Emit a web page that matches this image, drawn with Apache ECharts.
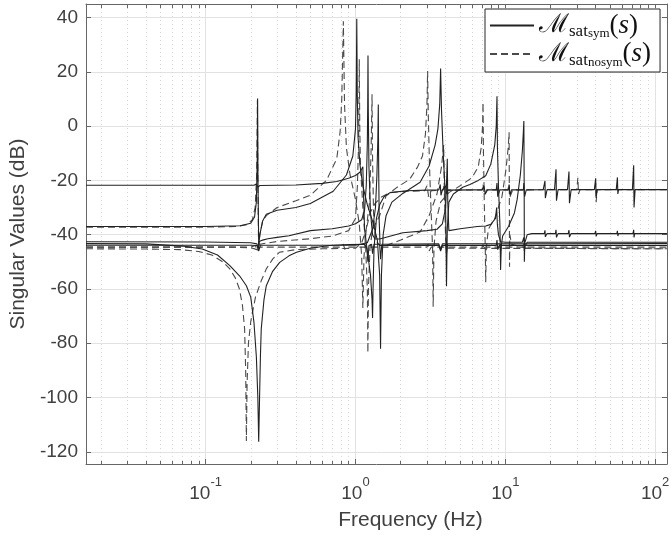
<!DOCTYPE html>
<html>
<head>
<meta charset="utf-8">
<script src="https://cdn.jsdelivr.net/npm/echarts@6/dist/echarts.min.js"></script>
<style>html,body{margin:0;padding:0;background:#fff}#c{width:671px;height:535px}</style>
</head>
<body>
<div id="c"></div>
<script>
// ---- axis ticks ----
const xMajorTicks = [0.1, 1, 10, 100];
const xMinorTicks = [0.02,0.03,0.04,0.05,0.06,0.07,0.08,0.09,
  0.2,0.3,0.4,0.5,0.6,0.7,0.8,0.9,
  2,3,4,5,6,7,8,9,
  20,30,40,50,60,70,80,90];
const yTicks = [-120,-100,-80,-60,-40,-20,0,20,40];
const xRange = [0.0159, 120];
const yRange = [-124.5, 45];

// ---- series: [frequency (Hz), singular value (dB)] ----
// solid: M_sat_sym(s)
const symA = [[0.0159,-21.8],[0.05,-21.8],[0.15,-21.8],[0.21,-21.8],[0.219,-21.3],[0.222,-22.5],[0.23,-21.9],[0.4,-21.7],[0.6,-21.1],[0.75,-20.4],[0.9,-19.2],[1.0,-18.2],[1.07,-17],[1.1,-15.8],[1.12,-15],[1.13,-24],[1.15,-38],[1.2,-46],[1.26,-55],[1.29,-64],[1.3,-70.7],[1.31,-60],[1.33,-45],[1.38,-34],[1.45,-29],[1.55,-26],[1.7,-24.5],[2.2,-23.8],[3.0,-23.6],[3.6,-23.5],[3.68,-21.5],[3.72,-25.5],[3.8,-23.6],[4.0,-22],[4.06,-25],[4.15,-23.6],[6,-23.5],[7.0,-23.5],[7.2,-22],[7.35,-25],[7.6,-23.5],[8.7,-23.5],[8.8,-21],[8.9,-26],[9.2,-23.5],[10.5,-23.5],[10.6,-21.5],[10.75,-25.5],[11,-23.5],[13.2,-23.5],[13.3,-21],[13.45,-26],[13.8,-23.5],[17.9,-23.4],[18.4,-20.2],[18.5,-26.5],[19,-23.4],[21.3,-23.4],[21.8,-15.9],[21.95,-27.5],[22.5,-23.4],[26,-23.4],[26.6,-16.7],[26.8,-28.4],[27.5,-23.4],[39.3,-23.4],[40.1,-19.2],[40.4,-26.5],[41,-23.4],[55,-23.4],[56,-18.9],[56.4,-25],[57,-23.4],[70.5,-23.4],[71.9,-14.4],[72.3,-30],[73.5,-23.4],[120,-23.4]];
const symB = [[0.0159,-37],[0.1,-37],[0.17,-36.7],[0.2,-35.8],[0.212,-33.5],[0.218,-28],[0.221,-12],[0.2222,10.2],[0.2235,-20],[0.226,-44],[0.23,-40],[0.24,-35],[0.254,-32.5],[0.3,-31],[0.4,-30],[0.5,-28.5],[0.71,-24],[0.87,-18],[0.96,-11],[1.0,-1],[1.012,12],[1.02,39.6],[1.028,12],[1.04,-4],[1.07,-14],[1.12,-22],[1.2,-29],[1.3,-35],[1.4,-42],[1.45,-55],[1.47,-82],[1.49,-55],[1.53,-40],[1.6,-33],[1.75,-28],[2.07,-24.8],[2.7,-20.7],[3.1,-14.7],[3.4,-7],[3.55,-1],[3.65,8],[3.7,21.2],[3.75,6],[3.85,-10],[3.95,-22],[4.0,-32],[4.05,-59],[4.1,-38],[4.2,-28],[4.5,-25],[5.2,-22.5],[5.8,-21.5],[6.6,-20],[7.4,-18.3],[8.0,-14],[8.5,-7],[8.7,0],[8.8,11],[8.86,-8],[9.0,-22],[9.2,-36],[9.3,-53],[9.4,-44],[9.6,-40.5],[10.5,-37],[11.5,-32],[12,-27],[12.6,-18],[13.0,-9],[13.2,-2],[13.3,1.9],[13.36,-20],[13.4,-50],[13.5,-43],[14,-40],[15,-39.6],[18.2,-39.6],[18.4,-38.4],[18.5,-40.8],[19,-39.6],[21.6,-39.6],[21.8,-38.2],[21.95,-41],[22.5,-39.6],[26.3,-39.6],[26.6,-38.3],[26.8,-40.9],[27.5,-39.6],[39.6,-39.6],[40.1,-38.6],[40.4,-40.6],[41,-39.6],[55.5,-39.6],[56,-38.6],[56.4,-40.5],[57,-39.6],[71.2,-39.6],[71.9,-38.2],[72.3,-41],[73,-39.6],[120,-39.6]];
const symC = [[0.0159,-43.3],[0.04,-43.4],[0.07,-44.2],[0.095,-45.3],[0.12,-47.5],[0.145,-51.4],[0.17,-55.5],[0.187,-58.8],[0.2,-63],[0.21,-72.2],[0.218,-85],[0.223,-100],[0.226,-116.3],[0.229,-100],[0.232,-85],[0.235,-74.7],[0.245,-64],[0.254,-58.8],[0.28,-53.5],[0.312,-50.2],[0.36,-47.8],[0.404,-46.5],[0.5,-45],[0.67,-44],[0.9,-43.6],[1.15,-43.5],[1.19,-45],[1.21,-50],[1.23,-44],[1.28,-43.5],[1.3,-47],[1.33,-43.5],[1.45,-43.5],[1.47,-49],[1.5,-43.5],[3.6,-43.4],[3.7,-45.5],[3.8,-43.4],[4.0,-43.4],[4.05,-47],[4.12,-43.4],[9.2,-43.4],[9.3,-46],[9.4,-43.4],[13.3,-43.4],[13.4,-46],[13.5,-43.4],[120,-43.3]];
const symD = [[0.0159,-42.6],[0.1,-42.7],[0.2,-43],[0.22,-43.4],[0.225,-45],[0.228,-42.5],[0.24,-42],[0.26,-41.5],[0.3,-41],[0.36,-40.4],[0.5,-38.5],[0.7,-37.8],[0.9,-36.8],[1.0,-36],[1.1,-34.5],[1.15,-31],[1.18,-22],[1.2,-6],[1.207,8],[1.212,26],[1.218,5],[1.23,-15],[1.26,-32],[1.3,-40],[1.35,-41.6],[1.45,-41.6],[2.07,-39.3],[3.0,-38.5],[3.5,-38],[3.8,-36],[4.0,-30],[4.08,-16],[4.1,-12],[4.13,-28],[4.2,-38.5],[5,-37.8],[6.5,-37],[7.4,-36.8],[8.0,-36.2],[8.6,-34],[8.75,-30],[8.85,-36],[9.0,-40],[9.3,-42.6],[10,-42.8],[13.0,-42.8],[13.3,-41],[13.45,-44.5],[14,-42.8],[120,-42.8]];
const symE = [[0.0159,-43.9],[0.2,-43.9],[0.22,-44],[0.226,-46],[0.232,-43.9],[1.0,-43.9],[1.2,-43],[1.3,-38],[1.36,-30],[1.39,-18],[1.41,-5],[1.42,8],[1.428,-15],[1.44,-35],[1.46,-44],[1.5,-44.2],[3.6,-44],[3.7,-46],[3.8,-44],[8.7,-44],[8.8,-42],[8.9,-45.5],[9.1,-44],[120,-44]];
// dashed: M_sat_nosym(s)
const nsA = [[0.0159,-37.2],[0.1,-37.2],[0.16,-37],[0.19,-36.3],[0.205,-34.5],[0.214,-30],[0.219,-18],[0.2215,9.5],[0.223,-18],[0.2255,-44],[0.23,-40],[0.24,-35],[0.254,-33],[0.3,-30],[0.4,-27.5],[0.5,-25.5],[0.64,-20],[0.75,-12],[0.79,-2],[0.81,9.9],[0.83,38.6],[0.845,8],[0.87,-8],[0.92,-18],[1.0,-27],[1.06,-36],[1.1,-48],[1.12,-67],[1.14,-48],[1.18,-38],[1.25,-32],[1.35,-28.5],[1.5,-26],[1.7,-24.5],[2.2,-24],[2.9,-23.8],[3.0,-22],[3.08,-26],[3.2,-23.8],[3.85,-23.6],[3.9,-21.5],[3.97,-25.5],[4.1,-23.6],[7.0,-23.5],[7.1,-21.5],[7.25,-25.5],[7.5,-23.5],[10.4,-23.5],[10.6,-21.5],[10.75,-26],[11.2,-23.5],[30,-23.4],[30.5,-19],[30.8,-25],[31.5,-23.4],[39.5,-23.4],[40.1,-21],[40.4,-28],[41,-23.4],[120,-23.4]];
const nsB = [[0.0159,-44.6],[0.15,-44.6],[0.2,-44.8],[0.22,-45.5],[0.2255,-46],[0.23,-43.5],[0.3,-42.5],[0.5,-41.5],[0.7,-40.5],[0.9,-38.5],[1.0,-34],[1.03,-22],[1.05,-5],[1.06,24.6],[1.068,0],[1.08,-15],[1.12,-30],[1.17,-45],[1.2,-60],[1.21,-83.5],[1.22,-60],[1.25,-45],[1.3,-38],[1.45,-33],[1.6,-25.7],[1.9,-22.5],[2.3,-19.6],[2.6,-15],[2.8,-11],[2.93,-3],[3.0,8],[3.03,20.3],[3.06,5],[3.12,-15],[3.2,-32],[3.27,-45],[3.3,-66.6],[3.34,-45],[3.45,-35],[3.7,-28],[4.2,-24.5],[5,-22],[6.0,-19],[6.6,-15],[6.9,-8],[7.05,0],[7.1,8.7],[7.15,-10],[7.25,-30],[7.35,-45],[7.4,-57.5],[7.47,-45],[7.7,-38],[8.5,-34],[9.5,-26],[10.1,-16],[10.45,-8],[10.6,-2.3],[10.63,-20],[10.67,-51.8],[10.72,-40],[11.0,-43.5],[14,-45],[120,-45.2]];
const nsC = [[0.0159,-45.2],[0.04,-45.3],[0.067,-45.5],[0.09,-46.2],[0.11,-47.5],[0.13,-50],[0.145,-52.6],[0.158,-56],[0.168,-60],[0.176,-66],[0.182,-74.7],[0.185,-90],[0.187,-116],[0.189,-95],[0.193,-80],[0.2,-72],[0.215,-63],[0.235,-57],[0.254,-52.6],[0.28,-49],[0.31,-46.5],[0.4,-45.5],[0.6,-45.2],[1.0,-45],[1.1,-43],[1.18,-38],[1.24,-28],[1.27,-10],[1.29,11.7],[1.3,-12],[1.32,-32],[1.36,-42],[1.45,-44],[1.6,-44],[2.0,-42],[2.7,-39],[3.1,-33],[3.5,-25],[3.75,-15],[3.88,-7],[3.92,-25],[4.0,-42],[4.1,-45],[120,-45.2]];
const nsD = [[0.0159,-44.6],[0.2,-44.6],[0.215,-44],[0.22,-46],[0.23,-44.6],[0.8,-44.6],[0.83,-43.5],[0.85,-45.5],[0.9,-44.6],[3.0,-44.6],[3.05,-43.5],[3.1,-46],[3.2,-44.6],[7.05,-44.6],[7.1,-43.6],[7.2,-45.6],[7.3,-44.6],[120,-44.6]];

const solidCurves = [symA, symB, symC, symD, symE];
const dashedCurves = [nsA, nsB, nsC, nsD];

const chart = echarts.init(document.getElementById('c'), null, {renderer: 'canvas'});

const axisColor = '#666';
const labelColor = '#404040';
const solidColor = '#222';
const dashColor = '#4a4a4a';
const series = [];
dashedCurves.forEach(d => series.push({
  name: 'nosym', type: 'line', data: d, showSymbol: false, symbol: 'none',
  xAxisIndex: 0, yAxisIndex: 0, animation: false, z: 3,
  itemStyle: {color: dashColor, opacity: 0},
  lineStyle: {color: dashColor, width: 1.1, type: [7, 4], opacity: 1}
}));
solidCurves.forEach(d => series.push({
  name: 'sym', type: 'line', data: d, showSymbol: false, symbol: 'none',
  xAxisIndex: 0, yAxisIndex: 0, animation: false, z: 4,
  itemStyle: {color: solidColor, opacity: 0},
  lineStyle: {color: solidColor, width: 1.1, type: 'solid', opacity: 1}
}));

const legendText = {
  sym: '{m|ℳ}{s1|sat}{s2|sym}{p|(}{it|s}{p|)}',
  nosym: '{m|ℳ}{s1|sat}{s2|nosym}{p|(}{it|s}{p|)}'
};

const option = {
  backgroundColor: '#fff',
  animation: false,
  grid: {left: 86, right: 4, top: 4, bottom: 71, containLabel: false, outerBoundsMode: 'none'},
  legend: {
    data: ['sym', 'nosym'],
    orient: 'vertical', left: 485, top: 9,
    backgroundColor: '#fff', borderColor: '#262626', borderWidth: 1, borderRadius: 0,
    padding: [3, 9, 3, 4], itemGap: 0, itemWidth: 44, itemHeight: 14,
    itemStyle: {opacity: 0},
    formatter: n => legendText[n],
    textStyle: {
      color: '#111',
      rich: {
        m: {fontFamily: 'DejaVu Serif', fontSize: 26, lineHeight: 30, color: '#111'},
        s1: {fontFamily: 'Liberation Serif', fontSize: 17, lineHeight: 12, verticalAlign: 'bottom', color: '#111'},
        s2: {fontFamily: 'Liberation Serif', fontSize: 13, lineHeight: 4, verticalAlign: 'bottom', color: '#111'},
        p: {fontFamily: 'Liberation Serif', fontSize: 27, lineHeight: 30, color: '#111'},
        it: {fontFamily: 'Liberation Serif', fontStyle: 'italic', fontSize: 27, lineHeight: 30, color: '#111'}
      }
    }
  },
  xAxis: [
    {
      type: 'log', logBase: 10, min: xRange[0], max: xRange[1], position: 'bottom',
      axisLine: {show: true, onZero: false, lineStyle: {color: axisColor, width: 1}},
      axisTick: {show: true, inside: true, length: 5, customValues: xMajorTicks, lineStyle: {color: axisColor}},
      axisLabel: {
        show: true, customValues: xMajorTicks, margin: 12,
        formatter: v => '{sp|\u200b}{b|10}{e|' + Math.round(Math.log10(v)) + '}',
        rich: {
          sp: {fontSize: 10, lineHeight: 27},
          b: {fontFamily: 'Liberation Sans', fontSize: 19, lineHeight: 19, verticalAlign: 'bottom', color: labelColor},
          e: {fontFamily: 'Liberation Sans', fontSize: 13, lineHeight: 15, verticalAlign: 'top', color: labelColor}
        }
      },
      splitLine: {show: true, lineStyle: {color: '#e2e2e2', width: 1}},
      name: 'Frequency (Hz)', nameLocation: 'middle', nameGap: 46,
      nameTextStyle: {fontFamily: 'Liberation Sans', fontSize: 21, color: labelColor, padding: [0, 0, 0, 68]}
    },
    {
      type: 'log', logBase: 10, min: xRange[0], max: xRange[1], position: 'bottom',
      axisLine: {show: false, onZero: false},
      axisTick: {show: true, inside: true, length: 3, customValues: xMinorTicks, lineStyle: {color: axisColor}},
      axisLabel: {show: false},
      splitLine: {show: true, lineStyle: {color: '#d8d8d8', width: 1, type: [1, 3]}}
    },
    {
      type: 'log', logBase: 10, min: xRange[0], max: xRange[1], position: 'top',
      axisLine: {show: true, onZero: false, lineStyle: {color: axisColor, width: 1}},
      axisTick: {show: true, inside: true, length: 4, customValues: xMajorTicks.concat(xMinorTicks), lineStyle: {color: axisColor}},
      axisLabel: {show: false},
      splitLine: {show: false}
    }
  ],
  yAxis: [
    {
      type: 'value', min: yRange[0], max: yRange[1], position: 'left',
      axisLine: {show: true, onZero: false, lineStyle: {color: axisColor, width: 1}},
      axisTick: {show: true, inside: true, length: 5, customValues: yTicks, lineStyle: {color: axisColor}},
      axisLabel: {show: true, customValues: yTicks, margin: 8, fontFamily: 'Liberation Sans', fontSize: 19, color: labelColor},
      splitLine: {show: true, lineStyle: {color: '#e2e2e2', width: 1}},
      name: 'Singular Values (dB)', nameLocation: 'middle', nameGap: 52, nameRotate: 90,
      nameTextStyle: {fontFamily: 'Liberation Sans', fontSize: 21, color: labelColor}
    },
    {
      type: 'value', min: yRange[0], max: yRange[1], position: 'right',
      axisLine: {show: true, onZero: false, lineStyle: {color: axisColor, width: 1}},
      axisTick: {show: true, inside: true, length: 5, customValues: yTicks, lineStyle: {color: axisColor}},
      axisLabel: {show: false},
      splitLine: {show: false}
    }
  ],
  series: series
};
chart.setOption(option);
</script>
</body>
</html>
